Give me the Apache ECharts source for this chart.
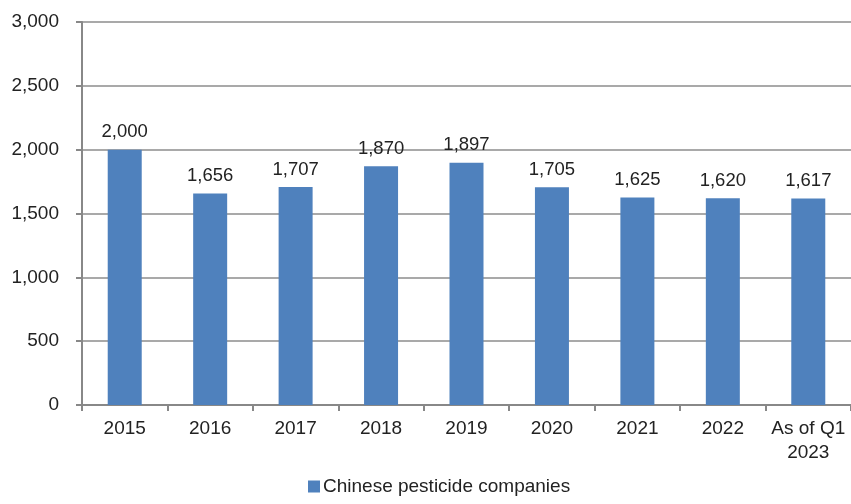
<!DOCTYPE html>
<html><head><meta charset="utf-8">
<script src="https://cdn.jsdelivr.net/npm/echarts@6/dist/echarts.min.js"></script>
<style>html,body{margin:0;padding:0;background:#fff}#c{width:851px;height:504px}</style>
</head><body><div id="c"></div>
<script>
const categories = ['2015','2016','2017','2018','2019','2020','2021','2022','As of Q1\n2023'];
const companies = [2000,1656,1707,1870,1897,1705,1625,1620,1617];
const seriesName = 'Chinese pesticide companies';
const chart = echarts.init(document.getElementById('c'));
chart.setOption({
  animation:false,
  textStyle:{fontFamily:'Liberation Sans, Arial, sans-serif'},
  grid:{left:82,right:-3,top:22,bottom:99,containLabel:false},
  legend:{bottom:3,left:303,itemWidth:12,itemHeight:12,itemGap:4,icon:'rect',
    textStyle:{fontSize:19,color:'#222',padding:[0,0,0,-2]},data:[seriesName]},
  xAxis:{type:'category',data:categories,
    axisLine:{lineStyle:{color:'#888',width:2}},
    axisTick:{show:true,alignWithLabel:false,length:6,lineStyle:{color:'#888',width:2}},
    axisLabel:{fontSize:19,color:'#222',margin:12,lineHeight:24,interval:0}},
  yAxis:{type:'value',min:0,max:3000,interval:500,
    axisLine:{show:true,lineStyle:{color:'#888',width:2}},
    axisTick:{show:true,length:6,lineStyle:{color:'#888',width:2}},
    splitLine:{lineStyle:{color:'#8c8c8c',width:1.5}},
    axisLabel:{fontSize:19,color:'#222',margin:23,formatter:v=>v.toLocaleString('en-US')}},
  series:[{name:seriesName,type:'bar',data:companies,barWidth:34,
    itemStyle:{color:'#4F81BD'},
    label:{show:true,position:'top',distance:8,fontSize:18.5,color:'#222',
      formatter:p=>p.value.toLocaleString('en-US')}}]
});
</script></body></html>
